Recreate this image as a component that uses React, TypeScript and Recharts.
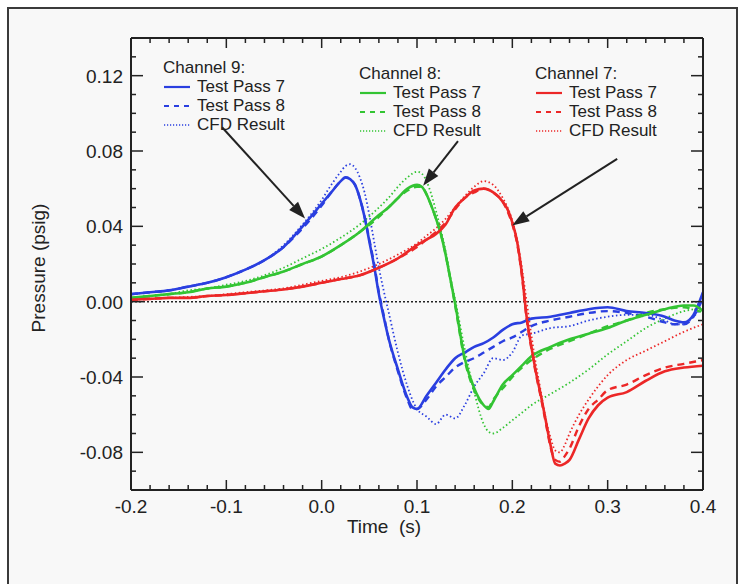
import React from 'react';
import { LineChart, Line, XAxis, YAxis, ReferenceLine } from 'recharts';

const FONT = '"Liberation Sans", Arial, sans-serif';
const INK = '#222';
const BLUE = '#2a3fe0';
const GREEN = '#33c433';
const RED = '#ec2727';

// ---- Channel 9 ----
const ch9Time = [
  -0.2, -0.18, -0.16, -0.14, -0.12, -0.1, -0.08, -0.06, -0.04, -0.02, 0.0, 0.01, 0.02, 0.025, 0.03,
  0.035, 0.04, 0.045, 0.05, 0.055, 0.06, 0.065, 0.07, 0.08, 0.09, 0.095, 0.1, 0.11, 0.12, 0.13, 0.14,
  0.15, 0.16, 0.17, 0.18, 0.19, 0.2, 0.21, 0.22, 0.24, 0.26, 0.28, 0.3, 0.32, 0.34, 0.36, 0.37, 0.38,
  0.39, 0.4,
];
const ch9Pass7 = [
  0.004, 0.005, 0.006, 0.008, 0.01, 0.013, 0.017, 0.022, 0.029, 0.04, 0.052, 0.058, 0.064, 0.066, 0.065,
  0.062, 0.055, 0.045, 0.032, 0.019, 0.004, -0.008, -0.019, -0.036, -0.051, -0.056, -0.057, -0.05, -0.043,
  -0.036, -0.03, -0.027, -0.024, -0.022, -0.019, -0.015, -0.012, -0.011, -0.009, -0.008, -0.006, -0.004,
  -0.003, -0.005, -0.006, -0.008, -0.01, -0.011, -0.007, 0.005,
];
const ch9Pass8 = [
  0.004, 0.005, 0.006, 0.008, 0.01, 0.013, 0.017, 0.022, 0.029, 0.039, 0.051, 0.058, 0.064, 0.066, 0.065,
  0.062, 0.055, 0.045, 0.033, 0.02, 0.005, -0.007, -0.019, -0.037, -0.052, -0.057, -0.057, -0.052, -0.045,
  -0.04, -0.035, -0.032, -0.03, -0.027, -0.024, -0.021, -0.019, -0.016, -0.013, -0.01, -0.008, -0.006,
  -0.005, -0.006, -0.008, -0.011, -0.012, -0.012, -0.008, 0.002,
];
const ch9Cfd = [
  0.004, 0.005, 0.006, 0.008, 0.01, 0.013, 0.017, 0.022, 0.03, 0.041, 0.054, 0.062, 0.069, 0.072, 0.073,
  0.071, 0.066, 0.058, 0.046, 0.032, 0.018, 0.006, -0.005, -0.027, -0.045, -0.052, -0.057, -0.061, -0.065,
  -0.06, -0.062, -0.055, -0.045, -0.038, -0.03, -0.031, -0.027, -0.018, -0.017, -0.014, -0.013, -0.01,
  -0.008, -0.007, -0.007, -0.01, -0.012, -0.012, -0.008, -0.002,
];

// ---- Channel 8 ----
const ch8Time = [
  -0.2, -0.18, -0.16, -0.14, -0.12, -0.1, -0.08, -0.06, -0.04, -0.02, 0.0, 0.02, 0.04, 0.06, 0.07, 0.08,
  0.09, 0.1, 0.105, 0.11, 0.115, 0.12, 0.125, 0.13, 0.135, 0.14, 0.15, 0.16, 0.17, 0.175, 0.18, 0.19, 0.2,
  0.21, 0.22, 0.24, 0.26, 0.28, 0.3, 0.32, 0.34, 0.36, 0.38, 0.39, 0.4,
];
const ch8Pass7 = [
  0.002, 0.003, 0.004, 0.005, 0.007, 0.008, 0.01, 0.013, 0.016, 0.02, 0.024, 0.03, 0.037, 0.046, 0.05,
  0.055, 0.06, 0.062, 0.061, 0.057, 0.051, 0.044, 0.036, 0.025, 0.012, -0.001, -0.03, -0.046, -0.055,
  -0.057, -0.053, -0.044, -0.039, -0.034, -0.029, -0.024, -0.02, -0.017, -0.014, -0.01, -0.007, -0.004,
  -0.002, -0.002, -0.005,
];
const ch8Pass8 = [
  0.002, 0.003, 0.004, 0.005, 0.007, 0.008, 0.01, 0.013, 0.016, 0.02, 0.024, 0.03, 0.037, 0.045, 0.05,
  0.055, 0.059, 0.061, 0.061, 0.057, 0.051, 0.044, 0.036, 0.025, 0.012, -0.002, -0.031, -0.047, -0.055,
  -0.056, -0.052, -0.046, -0.04, -0.035, -0.031, -0.025, -0.021, -0.017, -0.013, -0.01, -0.006, -0.004,
  -0.003, -0.004, -0.006,
];
const ch8Cfd = [
  0.002, 0.003, 0.004, 0.006, 0.007, 0.009, 0.011, 0.014, 0.018, 0.023, 0.028, 0.034, 0.041, 0.05, 0.055,
  0.061, 0.066, 0.069, 0.068, 0.064, 0.057, 0.048, 0.038, 0.027, 0.013, 0.001, -0.025, -0.048, -0.065,
  -0.069, -0.07, -0.067, -0.063, -0.059, -0.055, -0.049, -0.043, -0.036, -0.028, -0.021, -0.014, -0.009,
  -0.005, -0.004, -0.003,
];

// ---- Channel 7 ----
const ch7Time = [
  -0.2, -0.18, -0.16, -0.14, -0.12, -0.1, -0.08, -0.06, -0.04, -0.02, 0.0, 0.02, 0.04, 0.06, 0.08, 0.1,
  0.11, 0.12, 0.13, 0.14, 0.15, 0.16, 0.17, 0.18, 0.19, 0.195, 0.2, 0.205, 0.21, 0.215, 0.22, 0.225, 0.23,
  0.235, 0.24, 0.245, 0.25, 0.255, 0.26, 0.27, 0.28, 0.29, 0.3, 0.32, 0.34, 0.36, 0.38, 0.4,
];
const ch7Pass7 = [
  0.001, 0.0015, 0.002, 0.002, 0.003, 0.0035, 0.0045, 0.0055, 0.0065, 0.008, 0.01, 0.012, 0.014, 0.018,
  0.023, 0.03, 0.033, 0.036, 0.041, 0.05, 0.055, 0.059, 0.06, 0.058, 0.053, 0.049, 0.042, 0.032, 0.015,
  -0.008, -0.024, -0.038, -0.05, -0.063, -0.076, -0.086, -0.087, -0.086, -0.084, -0.073, -0.062, -0.055,
  -0.051, -0.048, -0.042, -0.037, -0.035, -0.034,
];
const ch7Pass8 = [
  0.001, 0.0015, 0.002, 0.002, 0.003, 0.0035, 0.0045, 0.0055, 0.0065, 0.008, 0.01, 0.012, 0.014, 0.018,
  0.023, 0.029, 0.033, 0.037, 0.042, 0.049, 0.055, 0.058, 0.06, 0.058, 0.053, 0.048, 0.041, 0.031, 0.014,
  -0.009, -0.025, -0.039, -0.051, -0.064, -0.077, -0.084, -0.085, -0.082, -0.078, -0.066, -0.057, -0.052,
  -0.047, -0.044, -0.039, -0.035, -0.033, -0.031,
];
const ch7Cfd = [
  0.001, 0.0015, 0.002, 0.0025, 0.003, 0.004, 0.005, 0.006, 0.007, 0.009, 0.011, 0.013, 0.016, 0.02, 0.025,
  0.031, 0.035, 0.039, 0.044, 0.05, 0.056, 0.061, 0.064, 0.062, 0.055, 0.05, 0.043, 0.033, 0.018, 0.0,
  -0.018, -0.034, -0.048, -0.062, -0.072, -0.079, -0.08, -0.076, -0.07, -0.06, -0.052, -0.045, -0.039,
  -0.031, -0.026, -0.021, -0.016, -0.012,
];

// ---- axes ----
const xTicks = [
  -0.2, -0.18, -0.16, -0.14, -0.12, -0.1, -0.08, -0.06, -0.04, -0.02, 0, 0.02, 0.04, 0.06, 0.08, 0.1, 0.12,
  0.14, 0.16, 0.18, 0.2, 0.22, 0.24, 0.26, 0.28, 0.3, 0.32, 0.34, 0.36, 0.38, 0.4,
];
const xMajor = [-0.2, -0.1, 0, 0.1, 0.2, 0.3, 0.4];
const yTicks = [
  -0.1, -0.09, -0.08, -0.07, -0.06, -0.05, -0.04, -0.03, -0.02, -0.01, 0, 0.01, 0.02, 0.03, 0.04, 0.05,
  0.06, 0.07, 0.08, 0.09, 0.1, 0.11, 0.12, 0.13, 0.14,
];
const yMajor = [-0.08, -0.04, 0, 0.04, 0.08, 0.12];

// arrows from the legend to the curves (data units)
const arrows = [
  { from: [-0.1045, 0.0926], to: [-0.0174, 0.0442] },
  { from: [0.143, 0.0853], to: [0.1064, 0.0616] },
  { from: [0.31, 0.0758], to: [0.1998, 0.0405] },
];

const legendGroups = [
  { title: 'Channel 9:', color: BLUE, left: 163, top: 58 },
  { title: 'Channel 8:', color: GREEN, left: 359, top: 64 },
  { title: 'Channel 7:', color: RED, left: 535, top: 64 },
];
const legendItems = [
  { label: 'Test Pass 7', dash: undefined, width: 2.2 },
  { label: 'Test Pass 8', dash: '5 5', width: 2.2 },
  { label: 'CFD Result', dash: '1.2 1.8', width: 1.4 },
];

const rows = (t: number[], p: number[]) => t.map((v, i) => ({ t: v, p: p[i] }));
const isMajor = (v: number, list: number[]) => list.some((m) => Math.abs(m - v) < 1e-9);

const MAJOR = 10;
const MINOR = 5;

const BottomTick = ({ x, y, payload }: any) => {
  const major = isMajor(payload.value, xMajor);
  return (
    <g>
      <line x1={x} y1={y} x2={x} y2={y - (major ? MAJOR : MINOR)} stroke={INK} strokeWidth={1.5} />
      {major && (
        <text x={x} y={y + 23} textAnchor="middle" fontSize={19} fontFamily={FONT} fill={INK}>
          {payload.value.toFixed(1)}
        </text>
      )}
    </g>
  );
};

const TopTick = ({ x, y, payload }: any) => {
  const major = isMajor(payload.value, xMajor);
  return <line x1={x} y1={y} x2={x} y2={y + (major ? MAJOR : MINOR)} stroke={INK} strokeWidth={1.5} />;
};

const LeftTick = ({ x, y, payload }: any) => {
  const major = isMajor(payload.value, yMajor);
  return (
    <g>
      <line x1={x} y1={y} x2={x + (major ? MAJOR + 2 : MINOR)} y2={y} stroke={INK} strokeWidth={1.5} />
      {major && (
        <text x={x - 8} y={y + 7} textAnchor="end" fontSize={19} fontFamily={FONT} fill={INK}>
          {payload.value.toFixed(2)}
        </text>
      )}
    </g>
  );
};

const RightTick = ({ x, y, payload }: any) => {
  const major = isMajor(payload.value, yMajor);
  return <line x1={x} y1={y} x2={x - (major ? MAJOR + 2 : MINOR)} y2={y} stroke={INK} strokeWidth={1.5} />;
};

const Arrow = ({ x1, y1, x2, y2 }: any) => {
  const a = Math.atan2(y2 - y1, x2 - x1);
  const len = 17;
  const half = 6;
  const bx = x2 - len * Math.cos(a);
  const by = y2 - len * Math.sin(a);
  const px = -Math.sin(a) * half;
  const py = Math.cos(a) * half;
  return (
    <g>
      <line x1={x1} y1={y1} x2={bx} y2={by} stroke={INK} strokeWidth={2} />
      <polygon points={`${x2},${y2} ${bx + px},${by + py} ${bx - px},${by - py}`} fill={INK} />
    </g>
  );
};

const series = [
  { data: rows(ch9Time, ch9Cfd), color: BLUE, dash: '1.5 2.5', width: 1.8 },
  { data: rows(ch8Time, ch8Cfd), color: GREEN, dash: '1.5 2.5', width: 1.8 },
  { data: rows(ch7Time, ch7Cfd), color: RED, dash: '1.5 2.5', width: 1.8 },
  { data: rows(ch9Time, ch9Pass8), color: BLUE, dash: '7 5', width: 2.4 },
  { data: rows(ch8Time, ch8Pass8), color: GREEN, dash: '7 5', width: 2.4 },
  { data: rows(ch7Time, ch7Pass8), color: RED, dash: '7 5', width: 2.4 },
  { data: rows(ch9Time, ch9Pass7), color: BLUE, dash: undefined, width: 2.6 },
  { data: rows(ch8Time, ch8Pass7), color: GREEN, dash: undefined, width: 2.6 },
  { data: rows(ch7Time, ch7Pass7), color: RED, dash: undefined, width: 2.6 },
];

export default function App() {
  return (
    <div style={{ position: 'fixed', left: 0, top: 0, width: 745, height: 584, background: '#fff', overflow: 'hidden' }}>
      <div
        style={{
          position: 'absolute',
          left: 7,
          top: 7,
          width: 731,
          height: 620,
          border: '2px solid #3a3a3a',
          boxSizing: 'border-box',
          background: '#f8f8f8',
        }}
      />
      <div style={{ position: 'absolute', left: 0, top: 0 }}>
        <LineChart width={745} height={584} margin={{ top: 37, right: 41, bottom: 54, left: 71 }}>
          <XAxis
            type="number"
            dataKey="t"
            domain={[-0.2, 0.4]}
            ticks={xTicks}
            interval={0}
            tick={<BottomTick />}
            tickSize={0}
            tickMargin={0}
            tickLine={false}
            height={40}
            allowDataOverflow
            axisLine={{ stroke: INK, strokeWidth: 2 }}
            label={{
              content: () => (
                <text x={384} y={533} textAnchor="middle" fontSize={19} fontFamily={FONT} fill={INK} style={{ whiteSpace: 'pre' }}>
                  Time  (s)
                </text>
              ),
            }}
          />
          <XAxis
            xAxisId="top"
            orientation="top"
            type="number"
            dataKey="t"
            domain={[-0.2, 0.4]}
            ticks={xTicks}
            interval={0}
            tick={<TopTick />}
            tickSize={0}
            tickMargin={0}
            tickLine={false}
            height={1}
            allowDataOverflow
            axisLine={{ stroke: INK, strokeWidth: 2 }}
          />
          <YAxis
            type="number"
            domain={[-0.1, 0.14]}
            ticks={yTicks}
            interval={0}
            tick={<LeftTick />}
            tickSize={0}
            tickMargin={0}
            tickLine={false}
            width={60}
            allowDataOverflow
            axisLine={{ stroke: INK, strokeWidth: 2 }}
            label={{
              content: () => (
                <text
                  x={45}
                  y={268}
                  transform="rotate(-90 45 268)"
                  textAnchor="middle"
                  fontSize={19}
                  fontFamily={FONT}
                  fill={INK}
                >
                  Pressure (psig)
                </text>
              ),
            }}
          />
          <YAxis
            yAxisId="right"
            orientation="right"
            type="number"
            domain={[-0.1, 0.14]}
            ticks={yTicks}
            interval={0}
            tick={<RightTick />}
            tickSize={0}
            tickMargin={0}
            tickLine={false}
            width={1}
            allowDataOverflow
            axisLine={{ stroke: INK, strokeWidth: 2 }}
          />
          <ReferenceLine y={0} stroke={INK} strokeWidth={1.5} strokeDasharray="2 2" />
          {series.map((s, i) => (
            <Line
              key={i}
              data={s.data}
              dataKey="p"
              type="monotone"
              stroke={s.color}
              strokeWidth={s.width}
              strokeDasharray={s.dash}
              dot={false}
              activeDot={false}
              isAnimationActive={false}
            />
          ))}
          {arrows.map((a, i) => (
            <ReferenceLine
              key={'arrow' + i}
              segment={[
                { x: a.from[0], y: a.from[1] },
                { x: a.to[0], y: a.to[1] },
              ]}
              shape={<Arrow />}
            />
          ))}
        </LineChart>
      </div>
      {legendGroups.map((g) => (
        <div key={g.title} style={{ position: 'absolute', left: g.left, top: g.top, fontFamily: FONT, fontSize: 17, color: INK, lineHeight: '19px' }}>
          <div>{g.title}</div>
          {legendItems.map((it) => (
            <div key={it.label} style={{ display: 'flex', alignItems: 'center' }}>
              <svg width={28} height={19} style={{ marginRight: 6 }}>
                <line x1={1} y1={10} x2={27} y2={10} stroke={g.color} strokeWidth={it.width} strokeDasharray={it.dash} />
              </svg>
              <span>{it.label}</span>
            </div>
          ))}
        </div>
      ))}
    </div>
  );
}
